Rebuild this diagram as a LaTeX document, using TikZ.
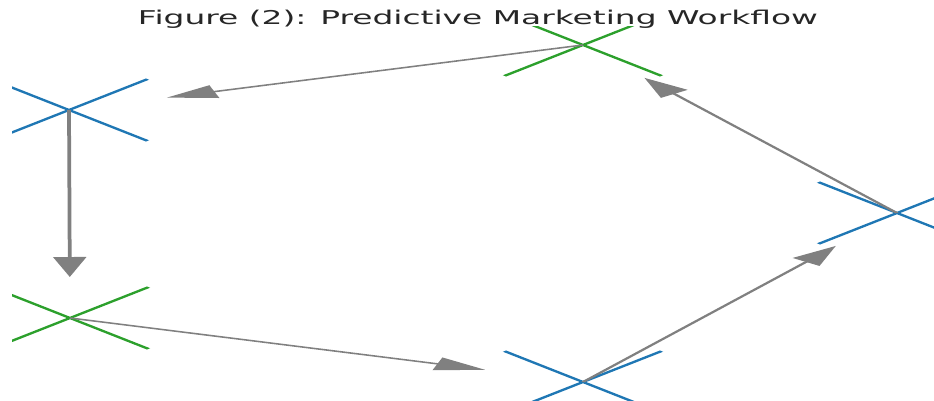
\documentclass[tikz,border=0pt]{standalone}
\usepackage{fontspec}
\setmainfont{DejaVu Sans}
\newfontfamily\titlefont[FakeStretch=1.73]{DejaVu Sans}
\usetikzlibrary{shapes.misc, arrows.meta}
\definecolor{mplblue}{HTML}{1F77B4}
\definecolor{mplgreen}{HTML}{2CA02C}
\definecolor{mplgray}{HTML}{808080}
\tikzstyle{stage} = [cross out, draw, line width=1.8pt, minimum width=61pt, minimum height=60pt, inner sep=0pt]
\tikzstyle{bluestage} = [stage, draw=mplblue]
\tikzstyle{greenstage} = [stage, draw=mplgreen]
\tikzstyle{arrow} = [draw=mplgray, line width=1.5pt, shorten >=41pt, -{Triangle[length=20pt,width=13pt]}]

\begin{document}
\begin{tikzpicture}[x=1pt, y=-1pt]
    \useasboundingbox (0,0) rectangle (934,401);
    \node (title) [font=\titlefont\fontsize{19}{22}\selectfont, text=black!85, anchor=base] at (478,25) {Figure (2): Predictive Marketing Workflow};
    \begin{scope}[transform canvas={xscale=2.5}]
        \clip (4.8,27) rectangle (373.6,401);
        % Stages
        \node (clean) [bluestage] at (27.6,110) {};
        \node (data) [greenstage] at (233.2,45) {};
        \node (model) [greenstage] at (28,318) {};
        \node (predict) [bluestage] at (233.2,382) {};
        \node (campaign) [bluestage] at (358.8,213) {};

        % Workflow arrows
        \draw [arrow] (data.center) -- (clean.center);
        \draw [arrow] (clean.center) -- (model.center);
        \draw [arrow] (model.center) -- (predict.center);
        \draw [arrow] (predict.center) -- (campaign.center);
        \draw [arrow] (campaign.center) -- (data.center);
    \end{scope}
\end{tikzpicture}
\end{document}
